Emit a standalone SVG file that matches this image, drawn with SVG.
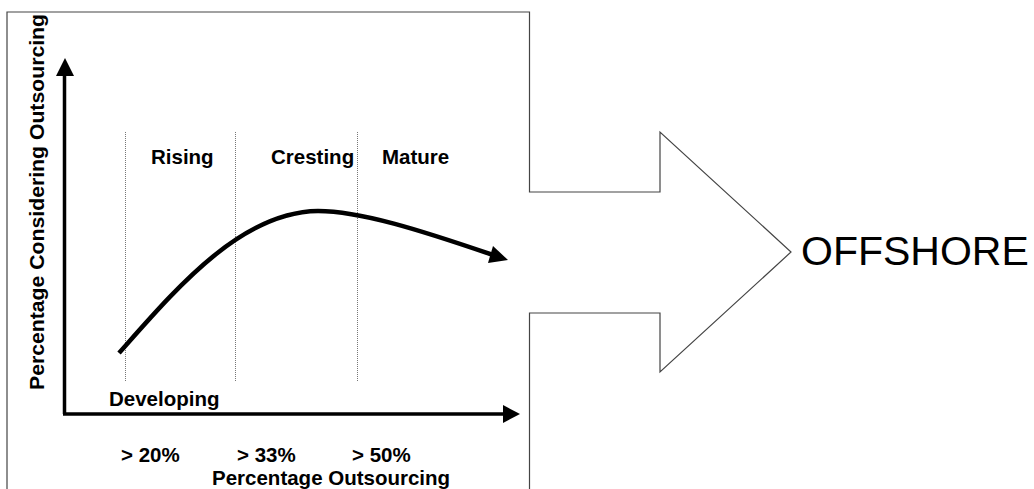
<svg xmlns="http://www.w3.org/2000/svg" width="1034" height="489" viewBox="0 0 1034 489">
  <style>
    .lbl { font-family: "Liberation Sans", Arial, sans-serif; font-weight: bold; font-size: 20.5px; fill: #000; }
    .big { font-family: "Liberation Sans", Arial, sans-serif; font-size: 41px; fill: #000; }
    .frame { fill: none; stroke: #444; stroke-width: 1.2; }
    .axis { fill: none; stroke: #000; stroke-width: 3.5; }
    .guide { fill: none; stroke: #777; stroke-width: 1; stroke-dasharray: 1 1; }
    .trend { fill: none; stroke: #000; stroke-width: 4.5; stroke-linecap: butt; }
  </style>
  <rect width="1034" height="489" fill="#fff"/>

  <!-- outline: chart box merged with the block arrow -->
  <g id="offshore-arrow">
    <path class="frame" d="M7,495 L7,12 L529.5,12 L529.5,192 L660,192 L660,132 L791,252 L660,372 L660,313 L529.5,313 L529.5,495"/>
    <text class="big" x="801" y="265">OFFSHORE</text>
  </g>

  <!-- phase boundaries -->
  <g id="guides">
    <line class="guide" x1="125.5" y1="132" x2="125.5" y2="381"/>
    <line class="guide" x1="235.5" y1="132" x2="235.5" y2="381"/>
    <line class="guide" x1="357.5" y1="132" x2="357.5" y2="381"/>
  </g>

  <g id="connectors">
    <!-- y axis -->
    <line class="axis" x1="64.5" y1="414" x2="64.5" y2="74"/>
    <polygon points="65,58 56,76 74,76" fill="#000"/>
    <!-- x axis -->
    <line class="axis" x1="63" y1="414" x2="505" y2="414"/>
    <polygon points="520,414 503,405 503,423" fill="#000"/>
    <!-- adoption curve -->
    <path class="trend" d="M119,353 C175,290 240,212 318,211 C360,211 420,230 493,255"/>
    <polygon points="508,260 493,246 488,263" fill="#000"/>
  </g>

  <g id="phase-labels">
    <text class="lbl" x="151" y="164">Rising</text>
    <text class="lbl" x="271" y="164">Cresting</text>
    <text class="lbl" x="382" y="164">Mature</text>
    <text class="lbl" x="109" y="406">Developing</text>
  </g>

  <g id="x-labels">
    <text class="lbl" x="121" y="462">&gt; 20%</text>
    <text class="lbl" x="237" y="462">&gt; 33%</text>
    <text class="lbl" x="352" y="462">&gt; 50%</text>
    <text class="lbl" x="212" y="485">Percentage Outsourcing</text>
  </g>

  <g id="y-label">
    <text class="lbl" style="font-size:21px" textLength="376" lengthAdjust="spacingAndGlyphs" transform="translate(43.5,390) rotate(-90)">Percentage Considering Outsourcing</text>
  </g>
</svg>
